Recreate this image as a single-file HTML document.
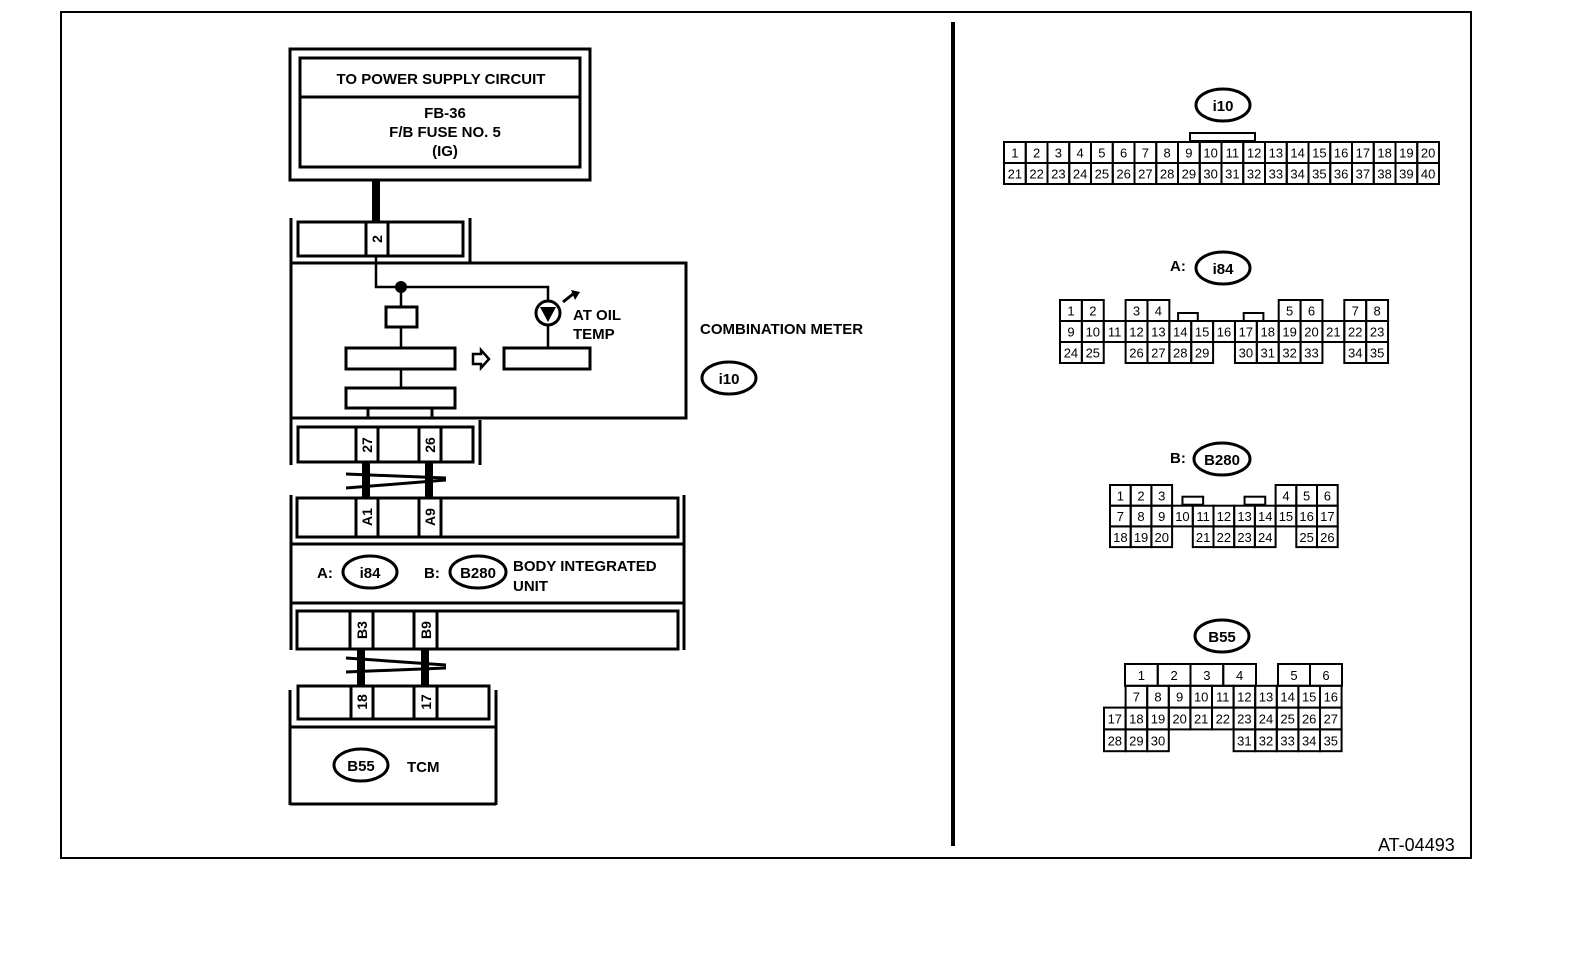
<!DOCTYPE html>
<html><head><meta charset="utf-8"><style>
html,body{margin:0;padding:0;background:#fff;}
svg{display:block;font-family:"Liberation Sans",Arial,sans-serif;font-weight:bold;}
</style></head><body>
<svg id="s" width="1584" height="968" viewBox="0 0 1584 968" xmlns="http://www.w3.org/2000/svg">
<rect x="0" y="0" width="1584" height="968" fill="#fff"/>
<rect x="61" y="12" width="1410" height="846" fill="none" stroke="#000" stroke-width="2"/>
<line x1="953" y1="22" x2="953" y2="846" stroke="#000" stroke-width="4"/>
<text x="1378" y="851" font-size="18" font-weight="normal">AT-04493</text>

<g fill="none" stroke="#000" stroke-width="3">
<rect x="290" y="49" width="300" height="131"/>
<rect x="300" y="58" width="280" height="109"/>
<line x1="300" y1="97" x2="580" y2="97"/>
<line x1="291" y1="218" x2="291" y2="263"/>
<line x1="470" y1="218" x2="470" y2="263"/>
<rect x="298" y="222" width="165" height="34"/>
<line x1="366" y1="222" x2="366" y2="256"/>
<line x1="388" y1="222" x2="388" y2="256"/>
<rect x="291" y="263" width="395" height="155"/>
<polyline points="376,256 376,287 548,287 548,301" stroke-width="2.5"/>
<line x1="401" y1="287" x2="401" y2="306" stroke-width="2.5"/>
<rect x="386" y="307" width="31" height="20"/>
<line x1="401" y1="327" x2="401" y2="348" stroke-width="2.5"/>
<rect x="346" y="348" width="109" height="21"/>
<line x1="401" y1="369" x2="401" y2="388" stroke-width="2.5"/>
<rect x="346" y="388" width="109" height="20"/>
<line x1="368" y1="408" x2="368" y2="418"/>
<line x1="432" y1="408" x2="432" y2="418"/>
<rect x="504" y="348" width="86" height="21"/>
<circle cx="548" cy="313" r="12"/>
<line x1="548" y1="325" x2="548" y2="348" stroke-width="2.5"/>
<line x1="291" y1="418" x2="291" y2="465"/>
<line x1="480" y1="420" x2="480" y2="465"/>
<rect x="298" y="427" width="175" height="35"/>
<line x1="356" y1="427" x2="356" y2="462"/>
<line x1="378" y1="427" x2="378" y2="462"/>
<line x1="419" y1="427" x2="419" y2="462"/>
<line x1="441" y1="427" x2="441" y2="462"/>
<line x1="291" y1="495" x2="291" y2="650"/>
<line x1="684" y1="495" x2="684" y2="650"/>
<rect x="297" y="498" width="381" height="39"/>
<line x1="356" y1="498" x2="356" y2="537"/>
<line x1="378" y1="498" x2="378" y2="537"/>
<line x1="419" y1="498" x2="419" y2="537"/>
<line x1="441" y1="498" x2="441" y2="537"/>
<line x1="291" y1="544" x2="684" y2="544"/>
<line x1="291" y1="603" x2="684" y2="603"/>
<rect x="297" y="611" width="381" height="38"/>
<line x1="350" y1="611" x2="350" y2="649"/>
<line x1="373" y1="611" x2="373" y2="649"/>
<line x1="414" y1="611" x2="414" y2="649"/>
<line x1="437" y1="611" x2="437" y2="649"/>
<line x1="290" y1="690" x2="290" y2="805"/>
<line x1="496" y1="690" x2="496" y2="805"/>
<line x1="290" y1="804" x2="496" y2="804"/>
<rect x="298" y="686" width="191" height="33"/>
<line x1="351" y1="686" x2="351" y2="719"/>
<line x1="373" y1="686" x2="373" y2="719"/>
<line x1="414" y1="686" x2="414" y2="719"/>
<line x1="437" y1="686" x2="437" y2="719"/>
<line x1="290" y1="727" x2="496" y2="727"/>
<ellipse cx="729" cy="378" rx="27" ry="16"/>
<ellipse cx="370" cy="572" rx="27" ry="16"/>
<ellipse cx="478" cy="572" rx="28" ry="16"/>
<ellipse cx="361" cy="765" rx="27" ry="16"/>
<ellipse cx="1223" cy="105" rx="27" ry="16"/>
<ellipse cx="1223" cy="268" rx="27" ry="16"/>
<ellipse cx="1222" cy="459" rx="28" ry="16"/>
<ellipse cx="1222" cy="636" rx="27" ry="16"/>
</g>
<g stroke="#000" fill="none">
<line x1="376" y1="180" x2="376" y2="222" stroke-width="8"/>
<line x1="366" y1="462" x2="366" y2="498" stroke-width="8"/>
<line x1="429" y1="462" x2="429" y2="498" stroke-width="8"/>
<line x1="361" y1="649" x2="361" y2="686" stroke-width="8"/>
<line x1="425" y1="649" x2="425" y2="686" stroke-width="8"/>
<line x1="346" y1="474" x2="446" y2="478" stroke-width="3"/>
<line x1="346" y1="488" x2="446" y2="480" stroke-width="3"/>
<line x1="346" y1="658" x2="446" y2="665" stroke-width="3"/>
<line x1="346" y1="672" x2="446" y2="668" stroke-width="3"/>
<polyline points="563,302 573,294" stroke-width="3"/>
</g>
<circle cx="401" cy="287" r="6" fill="#000"/>
<polygon points="540,307 556,307 548,322" fill="#000"/>
<polygon points="571,290 580,292 575,300" fill="#000"/>
<polygon points="473,354 481,354 481,350 489,359 481,368 481,364 473,364" fill="#fff" stroke="#000" stroke-width="2.5"/>
<g font-size="15" text-anchor="middle">
<text x="441" y="84">TO POWER SUPPLY CIRCUIT</text>
<text x="445" y="118">FB-36</text>
<text x="445" y="137">F/B FUSE NO. 5</text>
<text x="445" y="156">(IG)</text>
<text x="729" y="384">i10</text>
<text x="370" y="578">i84</text>
<text x="478" y="578">B280</text>
<text x="361" y="771">B55</text>
<text x="1223" y="111">i10</text>
<text x="1223" y="274">i84</text>
<text x="1222" y="465">B280</text>
<text x="1222" y="642">B55</text>
</g>
<g font-size="15">
<text x="573" y="320">AT OIL</text>
<text x="573" y="339">TEMP</text>
<text x="700" y="334">COMBINATION METER</text>
<text x="317" y="578">A:</text>
<text x="424" y="578">B:</text>
<text x="513" y="571">BODY INTEGRATED</text>
<text x="513" y="591">UNIT</text>
<text x="407" y="772">TCM</text>
<text x="1170" y="271">A:</text>
<text x="1170" y="463">B:</text>
</g>
<g font-size="14" text-anchor="middle">
<text transform="translate(382,239) rotate(-90)">2</text>
<text transform="translate(372,445) rotate(-90)">27</text>
<text transform="translate(435,445) rotate(-90)">26</text>
<text transform="translate(372,517) rotate(-90)">A1</text>
<text transform="translate(435,517) rotate(-90)">A9</text>
<text transform="translate(367,630) rotate(-90)">B3</text>
<text transform="translate(431,630) rotate(-90)">B9</text>
<text transform="translate(367,702) rotate(-90)">18</text>
<text transform="translate(431,702) rotate(-90)">17</text>
</g>
<g id="grids" fill="none" stroke="#000" stroke-width="2"></g>
<g id="gt" font-size="13" font-weight="normal" text-anchor="middle"></g>
</svg>
<script>
(function(){
var G=document.getElementById('grids'),T=document.getElementById('gt'),NS='http://www.w3.org/2000/svg';
function cell(x,y,w,h,t){var r=document.createElementNS(NS,'rect');r.setAttribute('x',x);r.setAttribute('y',y);r.setAttribute('width',w);r.setAttribute('height',h);G.appendChild(r);
var s=document.createElementNS(NS,'text');s.setAttribute('x',x+w/2);s.setAttribute('y',y+h/2+5);s.textContent=t;T.appendChild(s);}
function bump(x,y,w){var r=document.createElementNS(NS,'rect');r.setAttribute('x',x);r.setAttribute('y',y);r.setAttribute('width',w);r.setAttribute('height',8);G.appendChild(r);}
var i,w,x0,y0,h;
w=21.75;bump(1190,133,65);
for(i=0;i<20;i++){cell(1004+i*w,142,w,21,i+1);cell(1004+i*w,163,w,21,i+21);}
w=21.87;x0=1060;y0=300;h=21;
bump(x0+5.4*w,y0+h-8,w*0.9);bump(x0+8.4*w,y0+h-8,w*0.9);
var topRow=[[0,1],[1,2],[3,3],[4,4],[10,5],[11,6],[13,7],[14,8]];
topRow.forEach(function(a){cell(x0+a[0]*w,y0,w,h,a[1]);});
for(i=0;i<15;i++)cell(x0+i*w,y0+h,w,h,i+9);
[0,1,3,4,5,6,8,9,10,11,13,14].forEach(function(c,k){cell(x0+c*w,y0+2*h,w,h,24+k);});
w=20.7;x0=1110;y0=485;h=20.7;
bump(x0+3.5*w,y0+h-9,w);bump(x0+6.5*w,y0+h-9,w);
[0,1,2].forEach(function(c){cell(x0+c*w,y0,w,h,c+1);});
[8,9,10].forEach(function(c,k){cell(x0+c*w,y0,w,h,k+4);});
for(i=0;i<11;i++)cell(x0+i*w,y0+h,w,h,i+7);
[0,1,2,4,5,6,7,9,10].forEach(function(c,k){cell(x0+c*w,y0+2*h,w,h,18+k);});
w=21.6;x0=1104;y0=664;h=21.8;
for(i=0;i<4;i++)cell(1125+i*32.75,y0,32.75,h,i+1);
cell(1278,y0,32,h,5);cell(1310,y0,32,h,6);
for(i=0;i<10;i++)cell(x0+(i+1)*w,y0+h,w,h,i+7);
for(i=0;i<11;i++)cell(x0+i*w,y0+2*h,w,h,i+17);
[0,1,2,6,7,8,9,10].forEach(function(c,k){cell(x0+c*w,y0+3*h,w,h,28+k);});
})();
</script>
</body></html>
